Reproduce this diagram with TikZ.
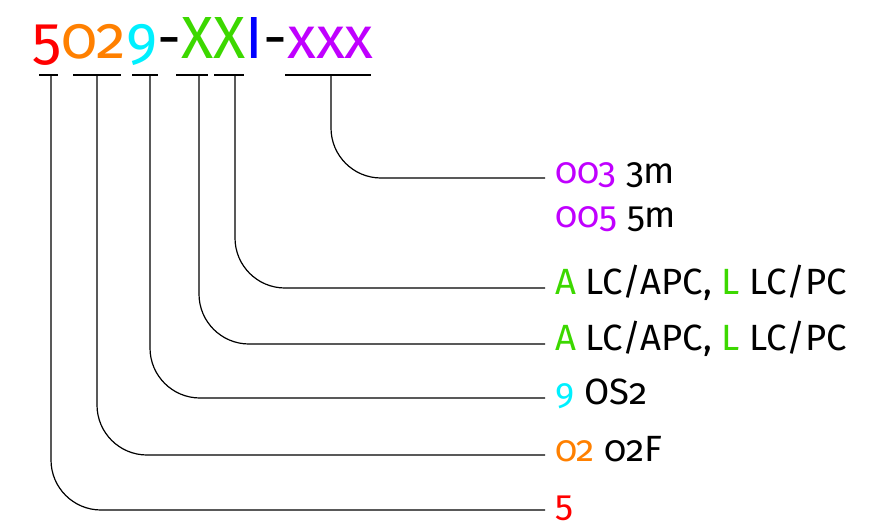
\documentclass[tikz,border=0pt]{standalone}
\usepackage{fontspec}
\setmainfont{Fira Sans}[Numbers=OldStyle]
\definecolor{cred}{HTML}{FF0000}
\definecolor{corange}{HTML}{FF8000}
\definecolor{ccyan}{HTML}{00F0FF}
\definecolor{cgreen}{HTML}{3CD800}
\definecolor{cblue}{HTML}{0000FF}
\definecolor{cpurple}{HTML}{C000FF}
\tikzset{
  bar/.style={line width=1.2pt},
  conn/.style={line width=1.2pt, rounded corners=50pt},
  lbl/.style={anchor=base west, inner sep=0pt, font=\fontsize{36.5}{40}\selectfont},
  ttl/.style={anchor=base west, inner sep=0pt, font=\fontsize{59.5}{62}\selectfont}
}
\begin{document}
\begin{tikzpicture}[x=1pt,y=-1pt]
\useasboundingbox (0,0) rectangle (875,530);
\node[ttl] (title) at (32,58) {\textcolor{cred}{5}\textcolor{corange}{02}\textcolor{ccyan}{9}-\textcolor{cgreen}{XX}\textcolor{cblue}{I}-\textcolor{cpurple}{xxx}};
% bars under the code
\draw[bar] (39,75) -- (58,75);
\draw[bar] (73,75) -- (121,75);
\draw[bar] (132,75) -- (158,75);
\draw[bar] (176,75) -- (208,75);
\draw[bar] (214,75) -- (244,75);
\draw[bar] (285,75) -- (371,75);
\coordinate (t1) at (51,75);
\coordinate (t2) at (97,75);
\coordinate (t3) at (150,75);
\coordinate (t4) at (199,75);
\coordinate (t5) at (235,75);
\coordinate (t6) at (331,75);
% line ends
\coordinate (e6) at (545,178);
\coordinate (e5) at (545,288);
\coordinate (e4) at (545,344);
\coordinate (e3) at (545,398);
\coordinate (e2) at (545,455);
\coordinate (e1) at (545,510);
% labels
\node[lbl] (l6a) at (555,183) {\textcolor{cpurple}{003} 3m};
\node[lbl] (l6b) at (555,227) {\textcolor{cpurple}{005} 5m};
\node[lbl] (l5) at (555,294) {\textcolor{cgreen}{A} LC/APC, \textcolor{cgreen}{L} LC/PC};
\node[lbl] (l4) at (555,350) {\textcolor{cgreen}{A} LC/APC, \textcolor{cgreen}{L} LC/PC};
\node[lbl] (l3) at (555,404) {\textcolor{ccyan}{9} OS2};
\node[lbl] (l2) at (555,461) {\textcolor{corange}{02} 02F};
\node[lbl] (l1) at (555,516) {\textcolor{cred}{5}};
% connectors
\draw[conn] (t6) |- (e6);
\draw[conn] (t5) |- (e5);
\draw[conn] (t4) |- (e4);
\draw[conn] (t3) |- (e3);
\draw[conn] (t2) |- (e2);
\draw[conn] (t1) |- (e1);
\end{tikzpicture}
\end{document}
